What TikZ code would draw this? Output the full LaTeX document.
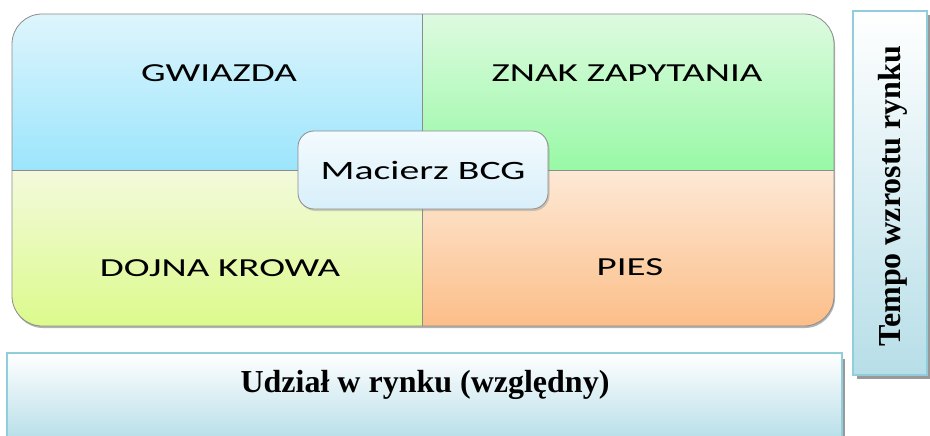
\documentclass[tikz,border=0pt]{standalone}
\usepackage{fontspec}
\usetikzlibrary{shadows}
\newfontfamily\quadfont[FakeStretch=1.5]{Carlito}
\newfontfamily\axisfont{Liberation Serif}

\definecolor{gwTop}{RGB}{222,245,252}
\definecolor{gwBot}{RGB}{155,229,252}
\definecolor{znTop}{RGB}{222,250,224}
\definecolor{znBot}{RGB}{152,249,166}
\definecolor{dkTop}{RGB}{243,250,220}
\definecolor{dkBot}{RGB}{220,250,140}
\definecolor{psTop}{RGB}{253,233,214}
\definecolor{psBot}{RGB}{252,190,136}
\definecolor{bcgTop}{RGB}{243,251,254}
\definecolor{bcgBot}{RGB}{216,239,250}
\definecolor{axisEdge}{RGB}{145,206,220}
\definecolor{axisFill}{RGB}{183,222,232}
\definecolor{frameEdge}{RGB}{140,140,140}

\begin{document}
\begin{tikzpicture}[x=1pt,y=-1pt,
  quadlabel/.style={font=\quadfont\fontsize{26}{30}\selectfont, inner sep=0pt},
  axislabel/.style={font=\axisfont\bfseries\fontsize{32}{36}\selectfont, inner sep=0pt},
  axisbox/.style={draw=axisEdge, line width=1.6pt, top color=white, bottom color=axisFill},
  axisshadow/.style={fill=black!40},
  divider/.style={draw=black!45, line width=0.8pt},
  bcgbox/.style={draw=black!45, line width=0.8pt, rounded corners=16pt,
    top color=bcgTop, bottom color=bcgBot,
    minimum width=250pt, minimum height=78pt, inner sep=0pt,
    drop shadow={shadow xshift=1.5pt, shadow yshift=-2pt, opacity=0.35},
    font=\quadfont\fontsize{26.5}{30}\selectfont}
]
\useasboundingbox (0,0) rectangle (930,436);

% soft shadow under the matrix
\fill[black!30, rounded corners=30pt] (13,16) rectangle (835,328);

% the four quadrants, clipped to one rounded frame
\begin{scope}
  \clip[rounded corners=30pt] (12,14) rectangle (834,326);
  \shade[top color=gwTop, bottom color=gwBot] (12,14) rectangle (422,170);
  \shade[top color=znTop, bottom color=znBot] (422,14) rectangle (834,170);
  \shade[top color=dkTop, bottom color=dkBot] (12,170) rectangle (422,326);
  \shade[top color=psTop, bottom color=psBot] (422,170) rectangle (834,326);
\end{scope}
\draw[divider] (422,14) -- (422,326);
\draw[divider] (12,170) -- (834,170);
\draw[draw=frameEdge, line width=0.8pt, rounded corners=30pt] (12,14) rectangle (834,326);

\node[quadlabel] (star)  at (219,73)  {GWIAZDA};
\node[quadlabel] (quest) at (627,73)  {ZNAK ZAPYTANIA};
\node[quadlabel] (cow)   at (220,268) {DOJNA KROWA};
\node[quadlabel] (dog)   at (630,267) {PIES};

\node[bcgbox] (bcg) at (423,170) {Macierz BCG};

% horizontal axis: relative market share
\fill[axisshadow] (11,359) rectangle (845,440);
\draw[axisbox] (7,353) rectangle (842,440);
\node[axislabel] (share) at (425,385) {Udział w rynku (względny)};

% vertical axis: market growth rate
\fill[axisshadow] (857,15) rectangle (931,379);
\draw[axisbox] (853,11) rectangle (927,375);
\node[axislabel, rotate=90] (growth) at (893,196) {Tempo wzrostu rynku};
\end{tikzpicture}
\end{document}
